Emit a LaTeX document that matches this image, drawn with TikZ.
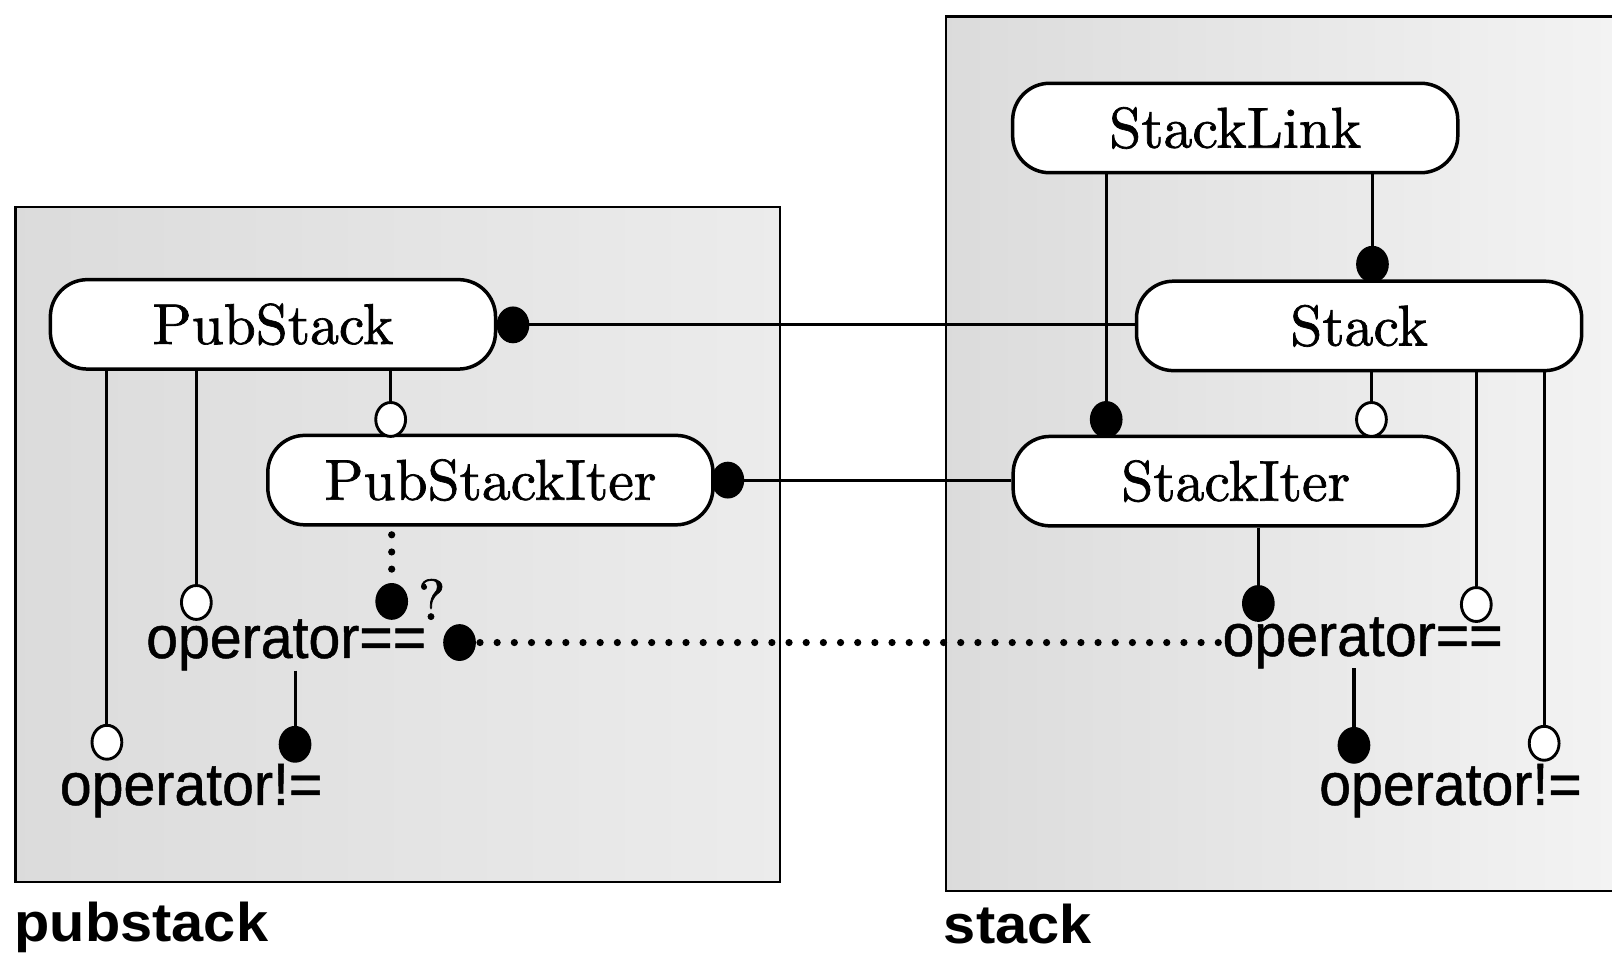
\documentclass[tikz,border=0pt]{standalone}
\usepackage{fontspec}
\newfontfamily\opfont[FakeStretch=0.96, FakeBold=0.8]{Liberation Sans}
\newfontfamily\pkgfont[FakeStretch=1.06]{Liberation Sans}
\newfontfamily\clsfont{lmroman10-regular}[Extension=.otf, FakeBold=1.2]
\usetikzlibrary{shapes.geometric}
\tikzset{
  cls/.style={draw, line width=3.4pt, fill=white, rounded corners=36pt,
    minimum width=433pt, minimum height=87pt, inner sep=0pt,
    font=\clsfont\fontsize{56}{60}\selectfont},
  conn/.style={line width=3pt},
  dotconn/.style={line width=7pt, line cap=round, dash pattern=on 0pt off 16.7pt},
  opn/.style={draw, ellipse, line width=2.8pt, fill=white, minimum width=29pt,
    minimum height=33pt, inner sep=0pt},
  fil/.style={opn, fill=black},
  optext/.style={inner sep=0pt, anchor=base west, font=\opfont\fontsize{58}{60}\selectfont},
  pkg/.style={inner sep=0pt, anchor=base west, font=\pkgfont\bfseries\fontsize{53}{60}\selectfont},
  pkgbox/.style={draw, line width=2.2pt}
}
\begin{document}
\begin{tikzpicture}[x=1pt,y=-1pt]
\useasboundingbox (0,0) rectangle (1568,929);
\clip (0,0) rectangle (1568,929);
\fill[white] (0,0) rectangle (1568,929);
% package boxes
\shade[left color=gray!28, right color=gray!15] (15,201) rectangle (759,858);
\draw[pkgbox] (15,201) rectangle (759,858);
\shade[left color=gray!28, right color=gray!9] (920,16) rectangle (1585,867);
\draw[pkgbox] (920,16) rectangle (1585,867);
\node[pkg] (lpub) at (14,916) {pubstack};
\node[pkg] (lstack) at (918,918) {stack};
% classes
\node[cls] (PubStack) at (265.5,315.5) {PubStack};
\node[cls] (PubStackIter) at (477,467) {PubStackIter};
\node[cls] (StackLink) at (1201.5,124.5) {StackLink};
\node[cls] (Stack) at (1322,317) {Stack};
\node[cls] (StackIter) at (1202,468) {StackIter};
% operator texts
\node[optext] (opeqL) at (142,640) {operator==};
\node[optext] (opneL) at (58,783) {operator!=};
\node[optext] (opeqR) at (1189,638) {operator==};
\node[optext] (opneR) at (1283,783) {operator!=};
\node[inner sep=0pt, font=\clsfont\fontsize{56}{58}\selectfont] (q) at (420,583) {?};
% ends
\node[opn] (cA) at (104,722) {};
\node[opn] (cB) at (191,586) {};
\node[opn] (cC) at (380,408) {};
\node[fil] (cD) at (499,316) {};
\node[fil] (cE) at (708,467) {};
\node[fil] (cF) at (381,585) {};
\node[fil] (cG) at (447,625) {};
\node[fil] (cH) at (287,724) {};
\node[fil] (cI) at (1335,257) {};
\node[fil] (cJ) at (1076,408) {};
\node[opn] (cK) at (1334,408) {};
\node[fil] (cL) at (1224,587) {};
\node[opn] (cM) at (1436,588) {};
\node[opn] (cN) at (1502,723) {};
\node[fil] (cO) at (1317,725) {};
% connectors
\draw[conn] (PubStack.south -| cA) -- (cA.north);
\draw[conn] (PubStack.south -| cB) -- (cB.north);
\draw[conn] (PubStack.south -| cC) -- (cC.north);
\draw[conn] (cD.east) -- (cD.east -| Stack.west);
\draw[conn] (cE.east) -- (cE.east -| StackIter.west);
\draw[dotconn] ([yshift=-8pt]PubStackIter.south -| cF) -- (cF.north);
\draw[dotconn] ([xshift=4pt]cG.east) -- (cG.east -| opeqR.west);
\draw[conn] (opeqL.south -| cH) -- (cH.north);
\draw[conn] (StackLink.south -| cI) -- (cI.north);
\draw[conn] (StackLink.south -| cJ) -- (cJ.north);
\draw[conn] (Stack.south -| cK) -- (cK.north);
\draw[conn] (StackIter.south -| cL) -- (cL.north);
\draw[conn] (Stack.south -| cM) -- (cM.north);
\draw[conn] (Stack.south -| cN) -- (cN.north);
\draw[conn] (opeqR.south -| cO) -- (cO.north);
\end{tikzpicture}
\end{document}
